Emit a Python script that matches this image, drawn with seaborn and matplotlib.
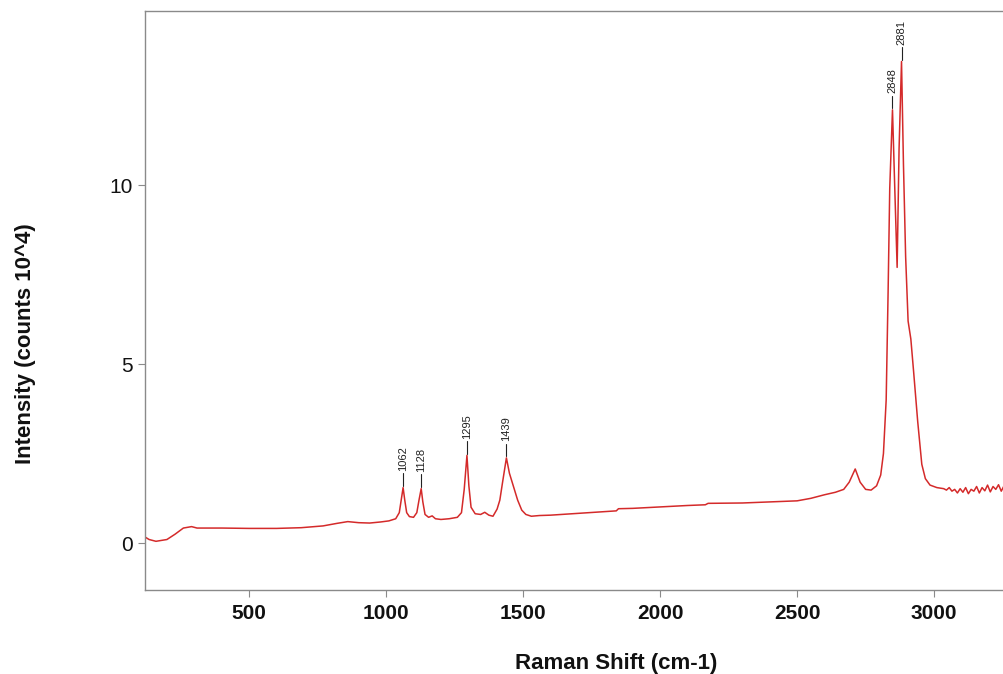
import numpy as np
import pandas as pd
import matplotlib
matplotlib.use("Agg")
import matplotlib.pyplot as plt
import seaborn as sns

# Raman spectrum, values (intensity in counts x 10^4)
shift = [120, 135, 160, 200, 230, 260, 290, 310, 400, 500, 600, 690, 770, 820, 860,
         900, 940, 980, 1010, 1035, 1048, 1056, 1062, 1068, 1075, 1085, 1100, 1112,
         1120, 1128, 1134, 1142, 1155, 1168, 1180, 1200, 1230, 1260, 1275, 1285,
         1295, 1302, 1310, 1325, 1345, 1360, 1375, 1390, 1405, 1415, 1425, 1439,
         1450, 1460, 1470, 1480, 1495, 1510, 1530, 1560, 1600, 1700, 1800, 1840,
         1848, 1900, 2000, 2100, 2165, 2175, 2300, 2400, 2500, 2550, 2600, 2640,
         2670, 2690, 2712, 2730, 2750, 2770, 2790, 2805, 2815, 2825, 2832, 2838,
         2848, 2856, 2865, 2872, 2881, 2888, 2896, 2905, 2915, 2925, 2940, 2955,
         2968, 2985, 3010, 3035, 3045, 3055, 3065, 3075, 3085, 3095, 3105, 3115,
         3125, 3135, 3145, 3155, 3165, 3175, 3185, 3195, 3205, 3215, 3225, 3235,
         3245, 3255]
intensity = [0.17, 0.10, 0.05, 0.10, 0.25, 0.42, 0.46, 0.42, 0.42, 0.41, 0.41, 0.43,
             0.48, 0.55, 0.60, 0.57, 0.56, 0.59, 0.62, 0.68, 0.85, 1.25, 1.55, 1.20,
             0.85, 0.74, 0.72, 0.85, 1.20, 1.52, 1.15, 0.80, 0.72, 0.76, 0.68, 0.66,
             0.68, 0.72, 0.85, 1.50, 2.45, 1.60, 1.00, 0.82, 0.80, 0.86, 0.78, 0.75,
             0.95, 1.20, 1.70, 2.38, 1.95, 1.70, 1.45, 1.20, 0.92, 0.80, 0.75, 0.77,
             0.78, 0.83, 0.88, 0.90, 0.96, 0.97, 1.01, 1.05, 1.07, 1.11, 1.12, 1.15,
             1.18, 1.25, 1.35, 1.42, 1.50, 1.70, 2.07, 1.70, 1.50, 1.48, 1.60, 1.90,
             2.50, 4.00, 7.00, 9.90, 12.10, 10.00, 7.70, 11.00, 13.45, 10.60, 8.00,
             6.20, 5.70, 4.80, 3.40, 2.20, 1.80, 1.62, 1.55, 1.52, 1.48, 1.55, 1.45,
             1.50, 1.40, 1.52, 1.42, 1.55, 1.38, 1.50, 1.45, 1.58, 1.40, 1.55, 1.46,
             1.62, 1.43, 1.58, 1.50, 1.63, 1.45, 1.60]

peak_labels = [1062, 1128, 1295, 1439, 2848, 2881]

df = pd.DataFrame({"shift": shift, "intensity": intensity})

sns.set_theme(style="white")
plt.rcParams["font.family"] = ["Liberation Sans", "DejaVu Sans"]

fig = plt.figure(figsize=(10.04, 6.74), dpi=100)
ax = fig.add_axes([145 / 1004, 84 / 674, 859 / 1004, 579 / 674])

sns.lineplot(data=df, x="shift", y="intensity", estimator=None, sort=False,
             color="#d42a2a", linewidth=1.1, ax=ax)

# peak labels with a short connector
for p in peak_labels:
    h = np.interp(p, shift, intensity)
    ax.plot([p, p], [h + 0.05, h + 0.4], color="#222222", linewidth=0.8)
    ax.text(p, h + 0.47, str(p), rotation=90, ha="center", va="bottom",
            fontsize=8, color="#222222")

ax.set_xlim(120, 3255)
ax.set_ylim(-1.31, 14.86)
ax.set_xticks([500, 1000, 1500, 2000, 2500, 3000])
ax.set_yticks([0, 5, 10])

for side in ["left", "top", "bottom"]:
    ax.spines[side].set_color("#8a8a8a")
    ax.spines[side].set_linewidth(1.0)
ax.spines["right"].set_visible(False)

ax.tick_params(axis="both", which="major", direction="out", length=5, width=0.8,
               color="#8a8a8a", labelsize=15, labelcolor="#111111")
ax.tick_params(axis="x", pad=5, left=True, bottom=True)
ax.tick_params(axis="y", pad=4, left=True)
for lab in ax.get_xticklabels():
    lab.set_fontweight("bold")

ax.set_xlabel("Raman Shift (cm-1)", fontsize=16, fontweight="bold", color="#111111")
ax.set_ylabel("Intensity (counts 10^4)", fontsize=16, fontweight="bold", color="#111111")
ax.xaxis.set_label_coords((616 - 145) / 859, (590 - 663) / 579)
ax.yaxis.set_label_coords((25 - 145) / 859, (590 - 344) / 579)
ax.xaxis.label.set_va("center")
ax.yaxis.label.set_va("center")
ax.grid(False)

fig.savefig("out.png", dpi=100)
